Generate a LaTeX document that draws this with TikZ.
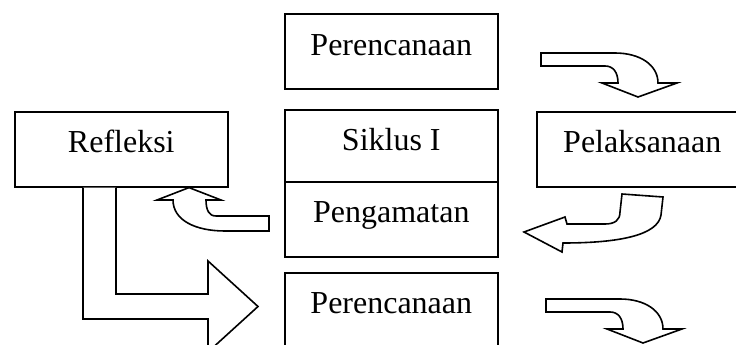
\documentclass[tikz,border=0pt]{standalone}
\usepackage{fontspec}
\setmainfont{Liberation Serif}
\begin{document}
\begin{tikzpicture}[x=1pt,y=-1pt,
  boxnode/.style={draw,line width=1.6pt,anchor=north west,inner sep=0pt,
    font=\fontsize{32}{38}\selectfont,align=center},
  blockarrow/.style={draw,line width=1.6pt,fill=white,line join=miter}]
\useasboundingbox (0,0) rectangle (736,345);
\clip (0,0) rectangle (736,345);
% boxes
\node[boxnode,minimum width=213pt,text height=42pt,text depth=33pt] (per1) at (284,13) {Perencanaan};
\node[boxnode,minimum width=213pt,text height=41pt,text depth=34pt] (ref) at (14,111) {Refleksi};
\node[boxnode,minimum width=213pt,text height=41pt,text depth=31pt] (sik) at (284,109) {Siklus I};
\node[boxnode,minimum width=213pt,text height=41pt,text depth=34pt] (pen) at (284,181) {Pengamatan};
\node[boxnode,minimum width=211pt,text height=41pt,text depth=34pt] (pel) at (536,111) {Pelaksanaan};
\node[boxnode,minimum width=213pt,text height=41pt,text depth=34pt] (per2) at (284,272) {Perencanaan};
% arrow Perencanaan -> Pelaksanaan
\draw[blockarrow] (541,53) -- (615,53) .. controls (640,53) and (658,65) .. (658,83)
  -- (677,83) -- (638,97) -- (602,83) -- (618,83)
  .. controls (618,72) and (613,66) .. (605,66) -- (541,66) -- cycle;
% arrow Pelaksanaan -> Pengamatan
\draw[blockarrow] (622,194) -- (663,197) -- (661,215) .. controls (658,235) and (620,243) .. (563,243)
  -- (562,252) -- (524,232) -- (565,217) -- (567,224) -- (605,224)
  .. controls (615,224) and (620,220) .. (620,212) -- cycle;
% arrow Pengamatan -> Refleksi
\draw[blockarrow] (269,216) -- (216,216) .. controls (209,216) and (206,210) .. (206,200)
  -- (221,200) -- (ref.south -| 189,0) -- (157,200) -- (173,200)
  .. controls (173,220) and (195,231) .. (225,231) -- (269,231) -- cycle;
% arrow Refleksi -> Perencanaan (next cycle)
\draw[blockarrow] (ref.south -| 116,0) -- (116,294) -- (208,294) -- (208,261) -- (258,306.5)
  -- (208,352) -- (208,319) -- (83,319) -- (ref.south -| 83,0);
% arrow below Perencanaan
\begin{scope}[shift={(5,246)}]
\draw[blockarrow] (541,53) -- (615,53) .. controls (640,53) and (658,65) .. (658,83)
  -- (677,83) -- (638,97) -- (602,83) -- (618,83)
  .. controls (618,72) and (613,66) .. (605,66) -- (541,66) -- cycle;
\end{scope}
\end{tikzpicture}
\end{document}
